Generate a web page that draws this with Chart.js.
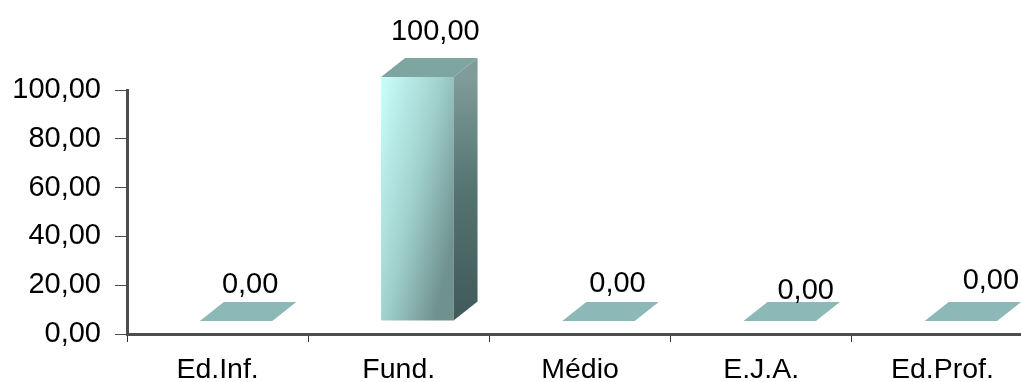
<!DOCTYPE html>
<html>
<head>
<meta charset="utf-8">
<title>Chart</title>
<script src="https://cdn.jsdelivr.net/npm/chart.js@4"></script>
<style>
    html, body { margin: 0; padding: 0; background: #fff; overflow: hidden; }
    canvas { display: block; }
</style>
</head>
<body>
<canvas id="chart" width="1033" height="382"></canvas>
<script>
// Chart data
const categories = ['Ed.Inf.', 'Fund.', 'Médio', 'E.J.A.', 'Ed.Prof.'];
const percentages = [0, 100, 0, 0, 0];
const yTicks = [0, 20, 40, 60, 80, 100];

// Fake 3D look: front face offset from the axis, plus the depth of the box
const FRONT_SHIFT = { x: 18.5, y: -13 };
const DEPTH = { x: 24, y: -19 };
const FONT_FAMILY = '"Liberation Sans", Arial, sans-serif';

// Label nudges per bar, the original has them placed by hand
const labelNudgeX = [14, 18, 19, 26, 30];
const labelNudgeY = [-17, -26, -18, -11, -21];

function formatValue(value) {
    return value.toFixed(2).replace('.', ',');
}

function frontGradient(context) {
    const chart = context.chart;
    if (!chart.chartArea) {
        return '#8fb8b6';
    }
    const value = percentages[context.dataIndex];
    if (value === 0) {
        return '#8db8b8';
    }
    const centre = chart.scales.x.getPixelForValue(context.dataIndex);
    const top = chart.scales.y.getPixelForValue(value);
    const left = centre - 36;
    // mostly left to right, darkening towards the bottom as well
    const gradient = chart.ctx.createLinearGradient(left, top, left + 105, top + 25);
    gradient.addColorStop(0, '#c9fffb');
    gradient.addColorStop(0.55, '#a0d0cc');
    gradient.addColorStop(1, '#6f9290');
    return gradient;
}

const box3d = {
    id: 'box3d',
    beforeDatasetsDraw(chart) {
        chart.ctx.save();
        chart.ctx.translate(FRONT_SHIFT.x, FRONT_SHIFT.y);
    },
    afterDatasetsDraw(chart) {
        const ctx = chart.ctx;
        chart.getDatasetMeta(0).data.forEach((bar, i) => {
            const left = bar.x - bar.width / 2;
            const right = bar.x + bar.width / 2;
            const top = bar.y;
            const bottom = bar.base;

            // top face
            ctx.beginPath();
            ctx.moveTo(left, top);
            ctx.lineTo(left + DEPTH.x, top + DEPTH.y);
            ctx.lineTo(right + DEPTH.x, top + DEPTH.y);
            ctx.lineTo(right, top);
            ctx.closePath();
            ctx.fillStyle = percentages[i] === 0 ? '#8db8b8' : '#7fa5a1';
            ctx.fill();

            // side face
            if (percentages[i] > 0) {
                const side = ctx.createLinearGradient(0, top, 0, bottom);
                side.addColorStop(0, '#7f9c9a');
                side.addColorStop(0.45, '#557472');
                side.addColorStop(1, '#41595a');
                ctx.beginPath();
                ctx.moveTo(right, top);
                ctx.lineTo(right + DEPTH.x, top + DEPTH.y);
                ctx.lineTo(right + DEPTH.x, bottom + DEPTH.y);
                ctx.lineTo(right, bottom);
                ctx.closePath();
                ctx.fillStyle = side;
                ctx.fill();
            }
        });
        ctx.restore();

        // value labels
        ctx.save();
        ctx.font = '29px ' + FONT_FAMILY;
        ctx.fillStyle = '#000';
        ctx.textAlign = 'center';
        ctx.textBaseline = 'middle';
        chart.getDatasetMeta(0).data.forEach((bar, i) => {
            ctx.fillText(formatValue(percentages[i]),
                bar.x + FRONT_SHIFT.x + labelNudgeX[i],
                bar.y + FRONT_SHIFT.y + DEPTH.y + labelNudgeY[i]);
        });
        ctx.restore();
    }
};

new Chart(document.getElementById('chart'), {
    type: 'bar',
    data: {
        labels: categories,
        datasets: [{
            data: percentages,
            backgroundColor: frontGradient,
            borderWidth: 0,
            barPercentage: 0.4,
            categoryPercentage: 1,
            clip: false
        }]
    },
    options: {
        responsive: false,
        animation: false,
        layout: { padding: { top: 90, right: 0, left: 0, bottom: 0 } },
        plugins: {
            legend: { display: false },
            title: { display: false },
            tooltip: { enabled: false }
        },
        scales: {
            x: {
                afterFit: scale => { scale.height = 48; },
                grid: {
                    drawOnChartArea: false,
                    offset: true,
                    color: '#333',
                    tickLength: 8,
                    tickWidth: 1
                },
                border: { color: '#4d4d4d', width: 3 },
                ticks: {
                    color: '#000',
                    padding: 11,
                    maxRotation: 0,
                    font: { family: FONT_FAMILY, size: 28.5 }
                }
            },
            y: {
                min: 0,
                max: 100,
                afterFit: scale => { scale.width = 127; },
                afterBuildTicks: scale => { scale.ticks = yTicks.map(value => ({ value })); },
                grid: {
                    drawOnChartArea: false,
                    color: '#4d4d4d',
                    tickLength: 12,
                    tickWidth: 1
                },
                border: { color: '#4d4d4d', width: 3 },
                ticks: {
                    color: '#000',
                    padding: 14,
                    callback: value => formatValue(value),
                    font: { family: FONT_FAMILY, size: 29 }
                }
            }
        }
    },
    plugins: [box3d]
});
</script>
</body>
</html>
